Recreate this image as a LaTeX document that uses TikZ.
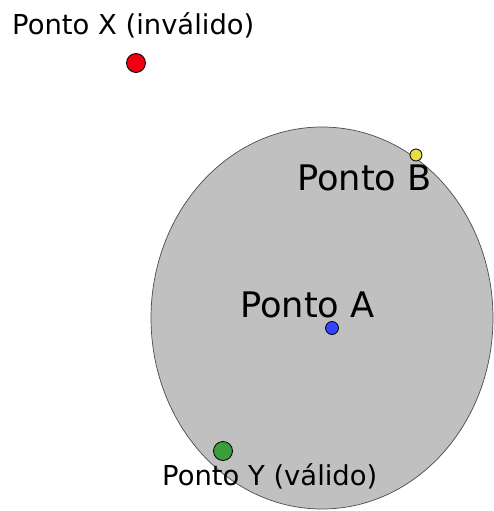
\documentclass[tikz,border=0pt]{standalone}
\usepackage{fontspec}
\setmainfont{DejaVu Sans}
\usetikzlibrary{shapes.geometric}
\definecolor{regiongray}{HTML}{C0C0C0}
\definecolor{dotred}{HTML}{EE0011}
\definecolor{dotblue}{HTML}{3344FF}
\definecolor{dotgreen}{HTML}{3A9E3A}
\definecolor{dotyellow}{HTML}{E8DC4A}
\tikzset{
  dot/.style={circle, draw=black, line width=0.8pt, inner sep=0pt, minimum size=#1},
  smalllabel/.style={anchor=base west, inner sep=0pt, font=\fontsize{27.4}{32}\selectfont},
  biglabel/.style={anchor=base west, inner sep=0pt, font=\fontsize{35.2}{40}\selectfont},
}
\begin{document}
\begin{tikzpicture}[x=1pt,y=-1pt]
\useasboundingbox (0,0) rectangle (494,511);
\fill[white] (0,0) rectangle (494,511);
\node[ellipse, draw=black!70, line width=0.7pt, fill=regiongray, minimum width=342pt, minimum height=382pt, inner sep=0pt] (region) at (322,318) {};
\node[smalllabel] (lx) at (12,35) {Ponto X (inválido)};
\node[dot=19pt, fill=dotred] (px) at (136,63) {};
\node[dot=12pt, fill=dotyellow] (pb) at (416,155) {};
\node[biglabel] (lb) at (297,190) {Ponto B};
\node[biglabel] (la) at (240,317) {Ponto A};
\node[dot=13pt, fill=dotblue, minimum height=12pt] (pa) at (332,328) {};
\node[dot=19pt, fill=dotgreen] (py) at (223,451) {};
\node[smalllabel] (ly) at (162,485) {Ponto Y (válido)};
\end{tikzpicture}
\end{document}
